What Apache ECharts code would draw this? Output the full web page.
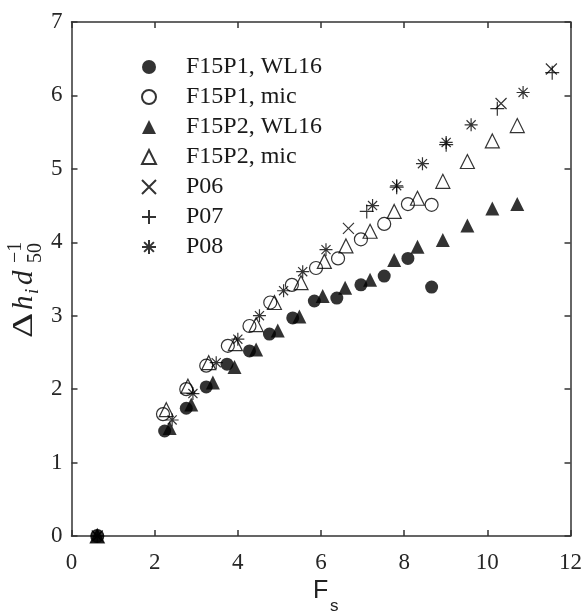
<!DOCTYPE html>
<html>
<head>
	<meta charset="utf-8">
	<title>Fs chart</title>
	<style>
		html, body {
			margin: 0;
			padding: 0;
			background: #fff;
		}

		#main {
			width: 585px;
			height: 612px;
		}
	</style>
</head>
<body>
	<div id="main"></div>
</body>
<script type="text/javascript" src="https://cdn.jsdelivr.net/npm/echarts/dist/echarts.min.js"></script>
<script type="text/javascript">
	// data: [Fs, dh/d50]
	var f15p1Wl16 = [[0.62, 0], [2.24, 1.43], [2.76, 1.74], [3.24, 2.03], [3.74, 2.34], [4.28, 2.52], [4.76, 2.75], [5.32, 2.97], [5.84, 3.20], [6.38, 3.24], [6.96, 3.42], [7.52, 3.54], [8.09, 3.78], [8.66, 3.39]];
	var f15p1Mic = [[0.62, 0], [2.20, 1.66], [2.76, 2.00], [3.24, 2.32], [3.76, 2.59], [4.28, 2.86], [4.78, 3.18], [5.30, 3.42], [5.88, 3.65], [6.41, 3.78], [6.96, 4.04], [7.52, 4.25], [8.09, 4.52], [8.66, 4.51]];
	var f15p2Wl16 = [[0.62, 0], [2.36, 1.47], [2.88, 1.79], [3.40, 2.09], [3.92, 2.30], [4.44, 2.54], [4.96, 2.80], [5.48, 2.99], [6.04, 3.27], [6.58, 3.38], [7.18, 3.49], [7.76, 3.76], [8.32, 3.94], [8.93, 4.03], [9.52, 4.23], [10.12, 4.46], [10.72, 4.52]];
	var f15p2Mic = [[0.62, 0], [2.28, 1.72], [2.80, 2.04], [3.30, 2.36], [3.94, 2.62], [4.44, 2.88], [4.88, 3.18], [5.52, 3.45], [6.08, 3.74], [6.60, 3.95], [7.18, 4.15], [7.76, 4.42], [8.32, 4.60], [8.93, 4.83], [9.52, 5.10], [10.12, 5.38], [10.72, 5.59]];
	var p06 = [[0.62, 0], [6.66, 4.19], [10.33, 5.89], [11.54, 6.36]];
	var p07 = [[7.10, 4.42], [7.82, 4.75], [9.01, 5.33], [10.24, 5.82], [11.56, 6.31]];
	var p08 = [[0.62, 0], [2.42, 1.58], [2.92, 1.94], [3.48, 2.36], [4.00, 2.68], [4.52, 3.00], [5.10, 3.34], [5.56, 3.60], [6.12, 3.90], [7.24, 4.50], [7.82, 4.77], [8.44, 5.07], [9.01, 5.36], [9.61, 5.60], [10.86, 6.04]];

	var names = ['F15P1, WL16', 'F15P1, mic', 'F15P2, WL16', 'F15P2, mic', 'P06', 'P07', 'P08'];
	var xTicks = [0, 12, 2];
	var yTicks = [0, 7, 1];

	var serif = 'Liberation Serif, Times New Roman, serif';
	var sans = 'Liberation Sans, Arial, sans-serif';
	var axisColor = '#333';
	var crossPath = 'path://M0,0L10,10M10,0L0,10';
	var plusPath = 'path://M5,0L5,10M0,5L10,5';
	var starPath = 'path://M5,0L5,10M0,5L10,5M1.5,1.5L8.5,8.5M8.5,1.5L1.5,8.5';

	function axisBase(pos, range, showLabel) {
		return {
			type: 'value',
			position: pos,
			min: range[0],
			max: range[1],
			interval: range[2],
			splitLine: { show: false },
			axisLine: { show: true, onZero: false, lineStyle: { color: axisColor, width: 1.5 } },
			axisTick: { show: true, inside: true, length: 6, lineStyle: { color: axisColor, width: 1.5 } },
			axisLabel: {
				show: showLabel,
				color: '#262626',
				fontFamily: serif,
				fontSize: 23,
				margin: (pos === 'left' ? 9 : 15)
			}
		};
	}

	function scatter(name, data, symbol, size, filled) {
		return {
			name: name,
			type: 'scatter',
			data: data,
			symbol: symbol,
			symbolSize: size,
			symbolKeepAspect: true,
			itemStyle: {
				color: filled ? '#000' : 'rgba(0,0,0,0)',
				borderColor: '#000',
				borderWidth: filled ? 0 : 1.2
			},
			emphasis: { disabled: true },
			xAxisIndex: 0,
			yAxisIndex: 0
		};
	}

	var option = {
		backgroundColor: '#fff',
		animation: false,
		grid: {
			left: 71.5,
			right: 13,
			top: 22,
			bottom: 76
		},
		legend: {
			orient: 'vertical',
			left: 136,
			top: 50,
			itemWidth: 14,
			itemHeight: 14,
			itemGap: 6,
			data: names,
			textStyle: {
				fontFamily: serif,
				fontSize: 24,
				lineHeight: 24,
				color: '#1a1a1a',
				padding: [0, 0, 0, 25]
			}
		},
		xAxis: [axisBase('bottom', xTicks, true), axisBase('top', xTicks, false)],
		yAxis: [axisBase('left', yTicks, true), axisBase('right', yTicks, false)],
		graphic: [{
			// y axis title, drawn bottom to top
			type: 'group',
			x: 24,
			y: 340,
			rotation: Math.PI / 2,
			silent: true,
			children: [
				{ type: 'text', x: 2, y: 0, scaleX: 1.35, style: { text: 'Δ', font: '29px ' + serif, fill: '#222', verticalAlign: 'middle' } },
				{ type: 'text', x: 30, y: 0, style: { text: 'h', font: 'italic 29px ' + serif, fill: '#222', verticalAlign: 'middle' } },
				{ type: 'text', x: 46, y: 9, style: { text: 'i', font: 'italic 19px ' + serif, fill: '#222', verticalAlign: 'middle' } },
				{ type: 'text', x: 55, y: 0, style: { text: 'd', font: 'italic 29px ' + serif, fill: '#222', verticalAlign: 'middle' } },
				{ type: 'text', x: 77, y: 12, style: { text: '50', font: '20px ' + serif, fill: '#222', verticalAlign: 'middle' } },
				{ type: 'text', x: 77, y: -8, style: { text: '−1', font: '20px ' + serif, fill: '#222', verticalAlign: 'middle' } }
			]
		}, {
			type: 'text',
			left: 313,
			top: 579,
			silent: true,
			style: { text: 'F', font: '25px ' + sans, fill: '#222' }
		}, {
			type: 'text',
			left: 330,
			top: 598,
			silent: true,
			style: { text: 's', font: '17px ' + sans, fill: '#222' }
		}],
		series: [
			scatter(names[0], f15p1Wl16, 'circle', 13, true),
			scatter(names[1], f15p1Mic, 'circle', 13, false),
			scatter(names[2], f15p2Wl16, 'triangle', 14, true),
			scatter(names[3], f15p2Mic, 'triangle', 14, false),
			scatter(names[4], p06, crossPath, 11, false),
			scatter(names[5], p07, plusPath, 14, false),
			scatter(names[6], p08, starPath, 13, false)
		]
	};

	var myChart = echarts.init(document.getElementById('main'));
	myChart.setOption(option);
</script>
</html>
